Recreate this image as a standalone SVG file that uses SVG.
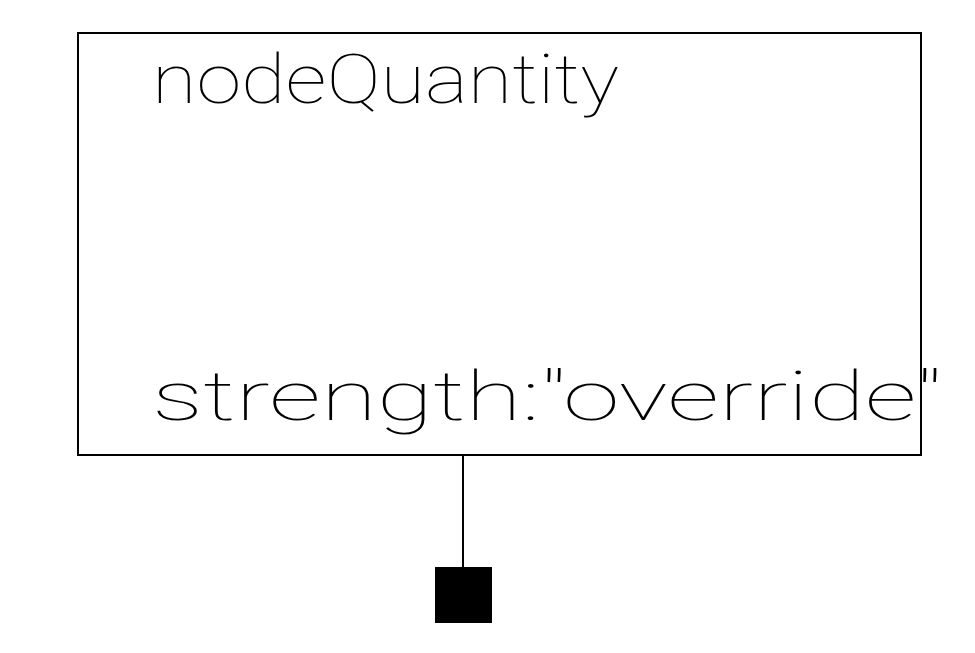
<svg xmlns="http://www.w3.org/2000/svg" width="975" height="653" viewBox="0 0 975 653">
<style>
.box{fill:#fff;stroke:#000;stroke-width:2}
.lbl{font-family:Roboto,"Liberation Sans",sans-serif;font-weight:100;font-size:68px;fill:#000}
.conn{stroke:#000;stroke-width:2;fill:none}
.port{fill:#000;stroke:none}
</style>
<rect width="975" height="653" fill="#fff"/>
<g id="node-nodeQuantity">
<rect class="box" x="78" y="33" width="843" height="422"/>
<text class="lbl" x="152" y="103" textLength="467" lengthAdjust="spacingAndGlyphs">nodeQuantity</text>
<text class="lbl" x="152" y="420" textLength="790" lengthAdjust="spacingAndGlyphs">strength:"override"</text>
</g>
<g id="connectors">
<line class="conn" x1="463" y1="455" x2="463" y2="567"/>
</g>
<g id="node-port">
<rect class="port" x="435" y="567" width="57" height="56"/>
</g>
</svg>
